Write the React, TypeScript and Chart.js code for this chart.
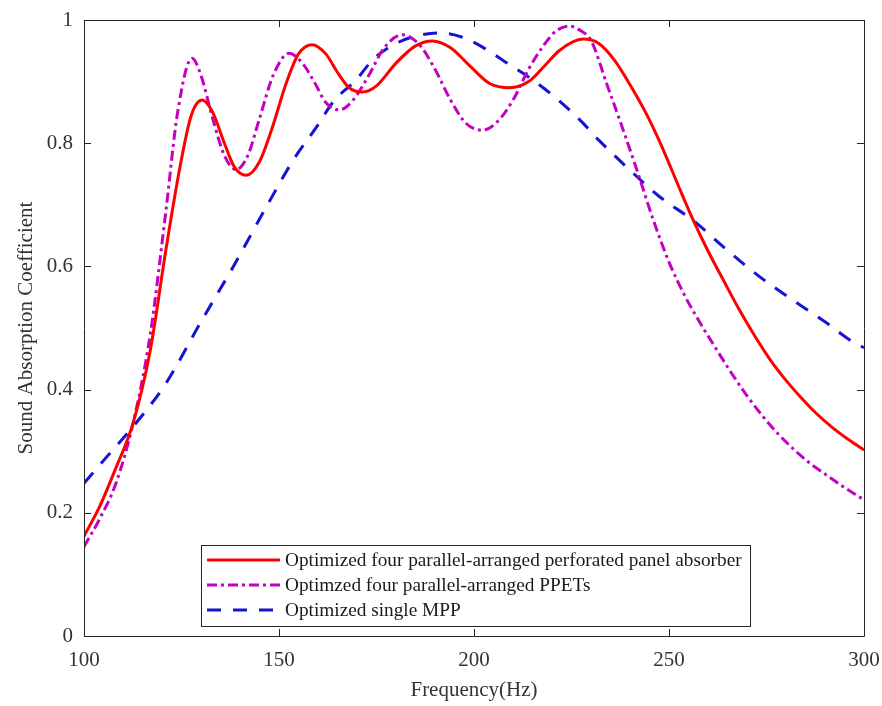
import React, { useEffect, useRef } from 'react';
import { Chart, registerables } from 'chart.js';

Chart.register(...registerables);

// ---------- data ----------
const xTickValues = [100, 150, 200, 250, 300];
const yTickValues = [0, 0.2, 0.4, 0.6, 0.8, 1];

const seriesLabels = [
  'Optimized four parallel-arranged perforated panel absorber',
  'Optimzed four parallel-arranged PPETs',
  'Optimized single MPP',
];

const panelHz = [100, 104, 108, 112.6, 117, 121, 124.6, 127.5, 130.3, 133, 136, 138.5, 141.6, 145, 148, 152, 155, 158.5, 162, 165, 168, 171.4, 175, 180, 185, 189.3, 194, 199, 204, 209.1, 214, 218, 222, 227.9, 232, 236, 240, 244, 248, 252, 256, 260, 264, 268, 272, 276, 280, 284, 288, 292, 296, 300];
const panelVal = [0.162, 0.21, 0.27, 0.346, 0.464, 0.627, 0.761, 0.845, 0.87, 0.85, 0.8, 0.762, 0.748, 0.77, 0.82, 0.9, 0.945, 0.96, 0.945, 0.915, 0.89, 0.883, 0.893, 0.93, 0.958, 0.966, 0.955, 0.925, 0.897, 0.89, 0.9, 0.925, 0.951, 0.969, 0.962, 0.935, 0.895, 0.85, 0.797, 0.737, 0.678, 0.625, 0.577, 0.53, 0.487, 0.448, 0.415, 0.386, 0.36, 0.338, 0.319, 0.302];

const ppetHz = [100, 104, 108.2, 112.6, 117, 121, 124, 127.7, 130, 133, 136, 139, 142, 145, 148.5, 152.6, 156, 159, 162, 165.5, 169, 173, 177, 181.6, 186, 190, 194, 198, 202.2, 206, 210, 214, 218, 221, 224.5, 227.5, 230, 234, 238, 242, 246, 250, 254, 258, 262, 266, 270, 274, 278, 282, 286, 290, 295, 300];
const ppetVal = [0.145, 0.19, 0.248, 0.346, 0.49, 0.69, 0.85, 0.938, 0.91, 0.84, 0.78, 0.757, 0.78, 0.84, 0.91, 0.946, 0.93, 0.9, 0.866, 0.854, 0.87, 0.91, 0.955, 0.976, 0.96, 0.92, 0.87, 0.832, 0.821, 0.835, 0.87, 0.92, 0.96, 0.982, 0.99, 0.982, 0.967, 0.897, 0.826, 0.752, 0.675, 0.607, 0.553, 0.508, 0.467, 0.427, 0.39, 0.357, 0.328, 0.303, 0.281, 0.263, 0.241, 0.221];

const mppHz = [100, 106, 112.6, 121, 129.8, 138.3, 146.7, 153.7, 159.6, 164, 169.8, 174, 178.3, 184, 191, 197, 202.2, 208, 215, 222, 227.9, 232, 239.2, 247.6, 256.1, 264.8, 273.3, 281.8, 290, 297.2, 300];
const mppVal = [0.248, 0.292, 0.34, 0.41, 0.508, 0.6, 0.696, 0.773, 0.826, 0.868, 0.903, 0.935, 0.956, 0.972, 0.979, 0.972, 0.956, 0.932, 0.903, 0.868, 0.833, 0.805, 0.761, 0.713, 0.675, 0.627, 0.583, 0.545, 0.51, 0.477, 0.468];

const FONT = '"Liberation Serif", "Times New Roman", serif';

const toPoints = (xs: number[], ys: number[]) => xs.map((x, i) => ({ x, y: ys[i] }));

const framePlugin = {
  id: 'matlabFrame',
  afterDraw(chart: any, _args: any, opts: any) {
    const { ctx, chartArea } = chart;
    const { left, right, top, bottom } = chartArea;
    const xs = chart.scales.x;
    const ys = chart.scales.y;
    ctx.save();
    ctx.strokeStyle = '#262626';
    ctx.lineWidth = 1;
    ctx.setLineDash([]);
    ctx.beginPath();
    ctx.rect(Math.round(left) + 0.5, Math.round(top) + 0.5, Math.round(right - left), Math.round(bottom - top));
    ctx.stroke();
    const tl = 7;
    ctx.beginPath();
    xTickValues.forEach((v) => {
      const px = Math.round(xs.getPixelForValue(v)) + 0.5;
      ctx.moveTo(px, bottom);
      ctx.lineTo(px, bottom - tl);
      ctx.moveTo(px, top);
      ctx.lineTo(px, top + tl);
    });
    yTickValues.forEach((v) => {
      const py = Math.round(ys.getPixelForValue(v)) + 0.5;
      ctx.moveTo(left, py);
      ctx.lineTo(left + tl, py);
      ctx.moveTo(right, py);
      ctx.lineTo(right - tl, py);
    });
    ctx.stroke();

    // legend box
    const L = opts.legend;
    ctx.fillStyle = '#ffffff';
    ctx.fillRect(L.x, L.y, L.w, L.h);
    ctx.strokeStyle = '#262626';
    ctx.lineWidth = 1;
    ctx.strokeRect(L.x + 0.5, L.y + 0.5, L.w, L.h);
    chart.data.datasets.forEach((ds: any, i: number) => {
      const cy = L.y + L.firstRow + i * L.rowGap;
      ctx.strokeStyle = ds.borderColor;
      ctx.lineWidth = ds.borderWidth;
      ctx.setLineDash(ds.borderDash || []);
      ctx.beginPath();
      ctx.moveTo(L.x + L.sampleStart, cy);
      ctx.lineTo(L.x + L.sampleEnd, cy);
      ctx.stroke();
      ctx.setLineDash([]);
      ctx.fillStyle = '#1a1a1a';
      ctx.font = `${L.fontSize}px ${FONT}`;
      ctx.textBaseline = 'middle';
      ctx.textAlign = 'left';
      ctx.fillText(ds.label, L.x + L.textStart, cy + 1);
    });
    ctx.restore();
  },
};

export default function App() {
  const ref = useRef<HTMLCanvasElement | null>(null);

  useEffect(() => {
    document.body.style.margin = '0';
    if (!ref.current) return;
    const chart = new Chart(ref.current, {
      type: 'line',
      data: {
        datasets: [
          {
            label: seriesLabels[0],
            data: toPoints(panelHz, panelVal),
            borderColor: '#ff0000',
            borderWidth: 3,
            borderDash: [],
            pointRadius: 0,
            cubicInterpolationMode: 'monotone',
          },
          {
            label: seriesLabels[1],
            data: toPoints(ppetHz, ppetVal),
            borderColor: '#c400c4',
            borderWidth: 3,
            borderDash: [10, 4, 3, 4],
            pointRadius: 0,
            cubicInterpolationMode: 'monotone',
          },
          {
            label: seriesLabels[2],
            data: toPoints(mppHz, mppVal),
            borderColor: '#1414d2',
            borderWidth: 3,
            borderDash: [14, 12],
            pointRadius: 0,
            cubicInterpolationMode: 'monotone',
          },
        ],
      },
      options: {
        animation: false,
        responsive: false,
        devicePixelRatio: 1,
        layout: { padding: { top: 20, right: 18, bottom: 0, left: 0 } },
        plugins: {
          legend: { display: false },
          tooltip: { enabled: false },
          matlabFrame: {
            legend: {
              x: 201, y: 545, w: 549, h: 81,
              firstRow: 15, rowGap: 25,
              sampleStart: 6, sampleEnd: 79, textStart: 84,
              fontSize: 19.3,
            },
          },
        } as any,
        scales: {
          x: {
            type: 'linear',
            min: 100,
            max: 300,
            afterFit: (s: any) => { s.height = 70; s.paddingLeft = 0; s.paddingRight = 0; },
            afterBuildTicks: (s: any) => { s.ticks = xTickValues.map((v) => ({ value: v })); },
            grid: { display: false, drawTicks: false },
            border: { display: false },
            ticks: {
              color: '#333333',
              font: { family: FONT, size: 21 },
              padding: 12,
              maxRotation: 0,
              callback: (v: any) => String(v),
            },
            title: {
              display: true,
              text: 'Frequency(Hz)',
              color: '#333333',
              font: { family: FONT, size: 21 },
              padding: { top: 0, bottom: 3 },
            },
          },
          y: {
            type: 'linear',
            min: 0,
            max: 1,
            afterFit: (s: any) => { s.width = 84; s.paddingTop = 0; s.paddingBottom = 0; },
            afterBuildTicks: (s: any) => { s.ticks = yTickValues.map((v) => ({ value: v })); },
            grid: { display: false, drawTicks: false },
            border: { display: false },
            ticks: {
              color: '#333333',
              font: { family: FONT, size: 21 },
              padding: 11,
              callback: (v: any) => String(Math.round(v * 10) / 10),
            },
            title: {
              display: true,
              text: 'Sound Absorption Coefficient',
              color: '#333333',
              font: { family: FONT, size: 21 },
              padding: { top: 14, bottom: 0 },
            },
          },
        },
      },
      plugins: [framePlugin],
    });
    return () => chart.destroy();
  }, []);

  return (
    <div style={{ width: 882, height: 706, background: '#fff' }}>
      <canvas ref={ref} width={882} height={706} style={{ display: 'block', width: 882, height: 706 }} />
    </div>
  );
}
